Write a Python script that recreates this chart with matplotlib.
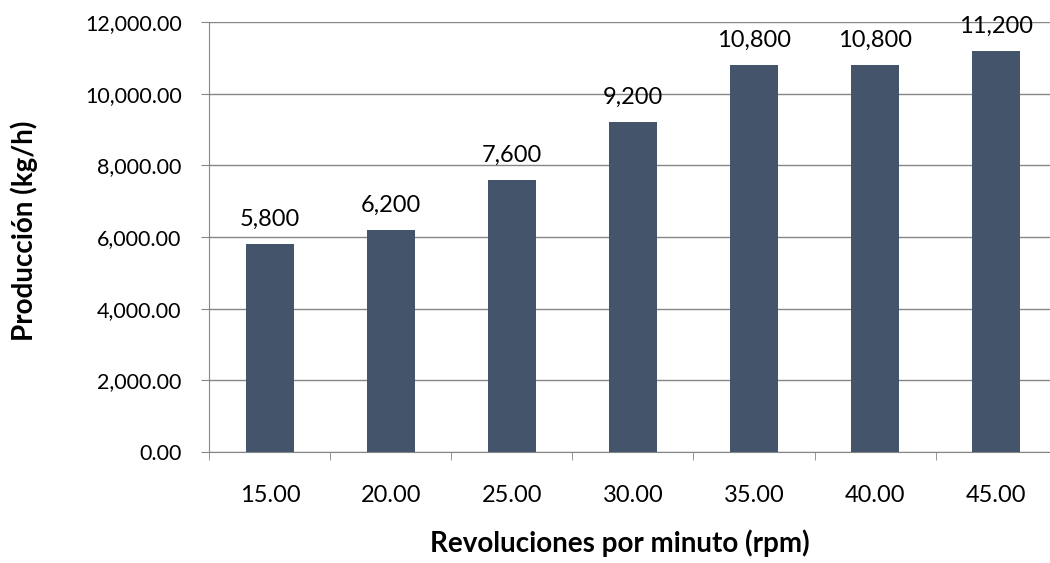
import numpy as np
import matplotlib.pyplot as plt
from matplotlib.ticker import FuncFormatter

# data
rpm = ["15.00", "20.00", "25.00", "30.00", "35.00", "40.00", "45.00"]
produccion = [5800, 6200, 7600, 9200, 10800, 10800, 11200]

plt.rcParams['font.family'] = ['Lato', 'DejaVu Sans']

fig = plt.figure(figsize=(10.5, 5.63), dpi=100)
ax = fig.add_axes([0.1995, 0.197, 0.8067, 0.764])

x = np.arange(len(rpm))
ax.bar(x, produccion, width=0.4, color='#44546A', zorder=3)

for xi, v in zip(x, produccion):
    ax.annotate(f"{v:,}", (xi, v), xytext=(0, 13), textcoords='offset points',
                ha='center', va='baseline', fontsize=17, color='black')

ax.set_xlim(-0.5, len(rpm) - 0.5)
ax.set_ylim(0, 12000)
ax.set_yticks(np.arange(0, 12001, 2000))
ax.yaxis.set_major_formatter(FuncFormatter(lambda v, p: f"{v:,.2f}"))

ax.set_xticks(x)
ax.set_xticklabels(rpm)
ax.set_xticks(np.arange(-0.5, len(rpm)), minor=True)
ax.tick_params(axis='x', which='major', length=0, pad=24, labelsize=17)
ax.tick_params(axis='x', which='minor', length=6, color='#868686', direction='out')
ax.tick_params(axis='y', length=6, color='#868686', labelsize=15.5, pad=14)

ax.grid(axis='y', color='#868686', linewidth=1, zorder=0)
for s in ['top', 'right']:
    ax.spines[s].set_visible(False)
for s in ['left', 'bottom']:
    ax.spines[s].set_color('#868686')

ax.set_xlabel('Revoluciones por minuto (rpm)', fontsize=20, fontweight='bold', va='top')
ax.xaxis.set_label_coords(0.485, -0.18)
ax.set_ylabel('Producción (kg/h)', fontsize=20, fontweight='bold')
ax.yaxis.set_label_coords(-0.2025, 0.514)

fig.savefig('out.png', dpi=100)
